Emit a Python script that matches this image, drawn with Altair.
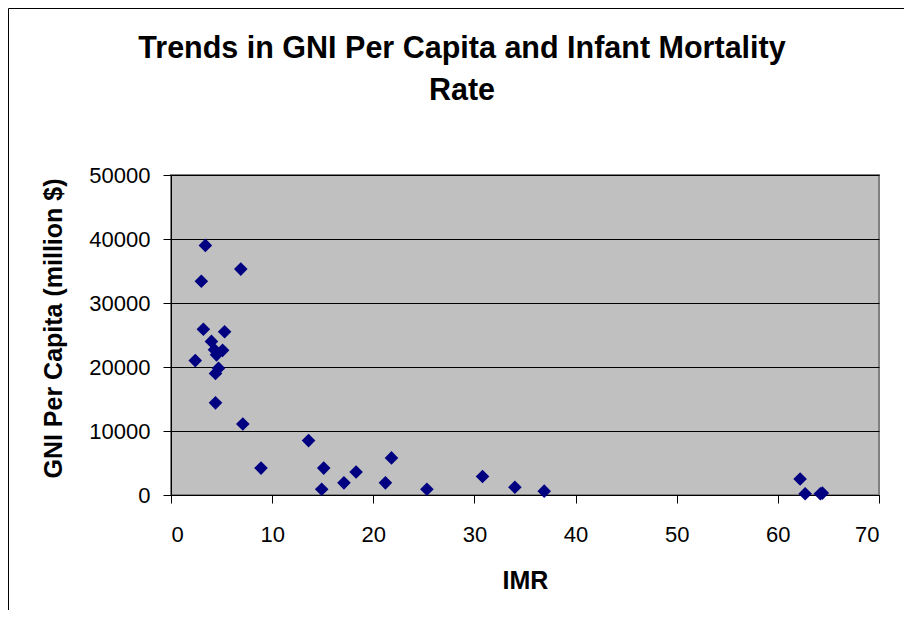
import altair as alt
import pandas as pd

# Data
imr = [3.4, 6.9, 3.0, 3.2, 5.3, 4.0, 4.3, 4.5, 5.1, 2.4, 4.7, 4.4, 4.4, 7.1, 8.9,
       13.6, 15.1, 14.9, 17.1, 18.3, 21.8, 21.2, 25.3, 30.8, 34.0, 36.9,
       62.2, 62.7, 64.2, 64.4]
gni = [39000, 35300, 33400, 25900, 25500, 24000, 22700, 21900, 22600, 21000,
       19800, 19000, 14400, 11100, 4200, 8500, 4200, 900, 1900, 3600, 5800,
       1900, 900, 2900, 1200, 600, 2500, 200, 200, 300]
x_ticks = [0, 10, 20, 30, 40, 50, 60, 70]
y_ticks = [0, 10000, 20000, 30000, 40000, 50000]
title_lines = ["Trends in GNI Per Capita and Infant Mortality", "Rate"]

df = pd.DataFrame({"IMR": imr, "GNI": gni})

FONT = "Liberation Sans"
W, H = 708, 320
PAD_L, PAD_T = 163, 167

points = alt.Chart(df).mark_point(
    shape="diamond", filled=True, size=185, color="#000080", opacity=1
).encode(
    x=alt.X("IMR:Q", scale=alt.Scale(domain=[0, 70], nice=False),
            axis=alt.Axis(values=x_ticks, grid=False, title="IMR",
                          titleX=W / 2, titleY=93, titleBaseline="alphabetic",
                          titleAlign="center")),
    y=alt.Y("GNI:Q", scale=alt.Scale(domain=[0, 50000], nice=False),
            axis=alt.Axis(values=y_ticks, grid=True, format="d",
                          title="GNI Per Capita (million $)",
                          titleX=-110, titleY=153, titleAngle=270,
                          titleBaseline="alphabetic", titleAlign="center")),
)

t1 = alt.Chart(pd.DataFrame({"t": [title_lines[0]]})).mark_text(
    font=FONT, fontSize=30.5, fontWeight="bold", color="black",
    align="center", baseline="alphabetic"
).encode(text="t:N", x=alt.value(291), y=alt.value(58 - 175))

t2 = alt.Chart(pd.DataFrame({"t": [title_lines[1]]})).mark_text(
    font=FONT, fontSize=30.5, fontWeight="bold", color="black",
    align="center", baseline="alphabetic"
).encode(text="t:N", x=alt.value(291), y=alt.value(100 - 175))

frame_top = alt.Chart(pd.DataFrame({"a": [0]})).mark_rule(color="black", strokeWidth=1).encode(
    x=alt.value(-PAD_L + 0.5), x2=alt.value(W + 60), y=alt.value(-PAD_T + 0.5)
)
frame_left = alt.Chart(pd.DataFrame({"a": [0]})).mark_rule(color="black", strokeWidth=1).encode(
    x=alt.value(-PAD_L + 0.5), y=alt.value(-PAD_T + 0.5), y2=alt.value(H + 200)
)

chart = alt.layer(frame_top, frame_left, points, t1, t2).properties(
    width=W, height=H,
    autosize=alt.AutoSizeParams(type="none"),
    padding={"left": PAD_L, "top": PAD_T, "right": 25, "bottom": 115},
).configure_view(
    fill="#C0C0C0", stroke="#808080", strokeWidth=2
).configure_axis(
    labelFont=FONT, labelFontSize=22, labelColor="black",
    titleFont=FONT, titleFontSize=25, titleFontWeight="bold", titleColor="black",
    domainColor="black", domainWidth=1, tickColor="black", tickSize=8,
    gridColor="black", gridWidth=1, gridOpacity=1, labelPadding=13,
).configure_axisX(labelPadding=21, domain=True)

chart.save("out.html", embed_options={"renderer": "svg", "actions": False})
